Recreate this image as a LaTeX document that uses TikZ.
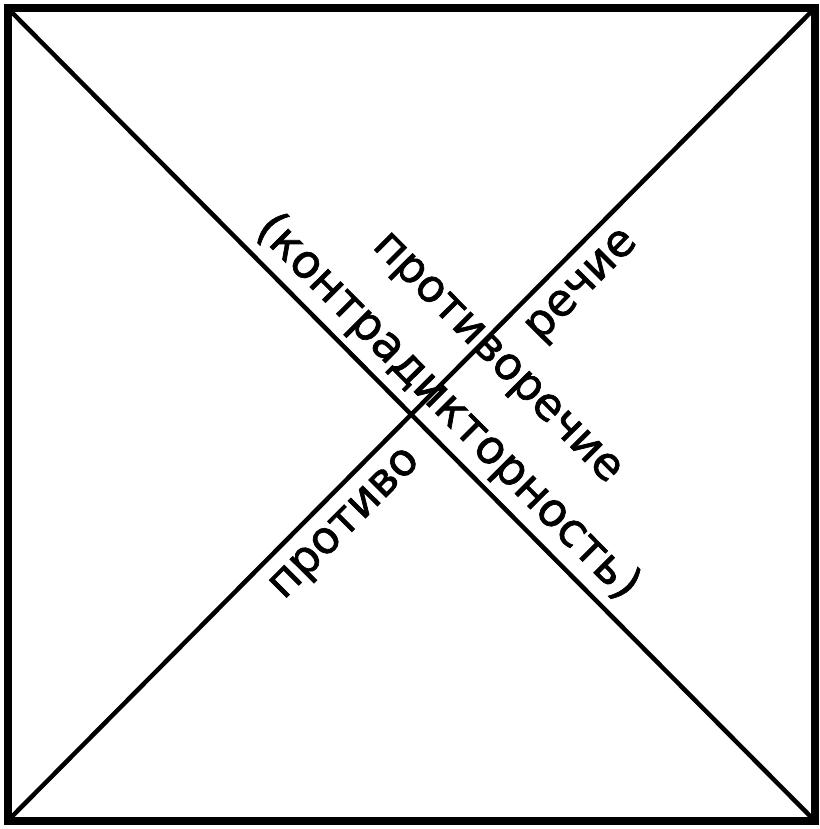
\documentclass[tikz,border=0pt]{standalone}
\usepackage{fontspec}
\setmainfont{DejaVu Sans}
\newfontfamily\lblfont{DejaVu Sans}[FakeBold=1.5]
\begin{document}
\begin{tikzpicture}[x=1pt,y=1pt,
  frame/.style={line width=8pt, line join=miter},
  diag/.style={line width=4.5pt},
  lbl/.style={inner sep=0pt, anchor=base, font=\lblfont\fontsize{45}{54}\selectfont}]
\useasboundingbox (0,0) rectangle (819,829);
\fill[white] (0,0) rectangle (819,829);
\coordinate (tl) at (7.5,821);
\coordinate (tr) at (815,821);
\coordinate (br) at (815,8);
\coordinate (bl) at (7.5,8);
\draw[frame] (tl) -- (tr) -- (br) -- (bl) -- cycle;
\draw[diag] (tl) -- (br);
\draw[diag] (bl) -- (tr);
\node[lbl, rotate=-45.2, font=\lblfont\fontsize{46.5}{54}\selectfont] (kontr) at (438.5,412.5) {(контрадикторность)};
\node[lbl, rotate=-45.2] (protiv) at (489.4,463.2) {противоречие};
\node[lbl, rotate=45.2] (p1) at (352.5,297.8) {противо};
\node[lbl, rotate=45.2] (p2) at (589.3,536.2) {речие};
\end{tikzpicture}
\end{document}
